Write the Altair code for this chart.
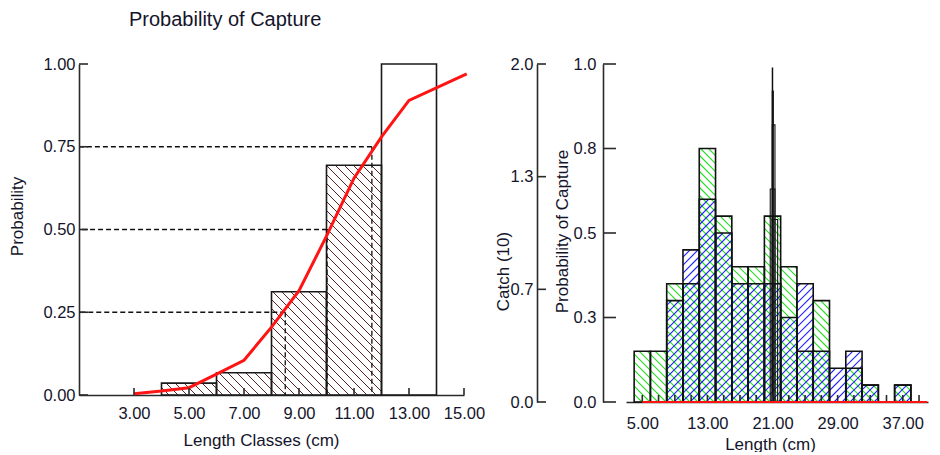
import altair as alt
import pandas as pd
import numpy as np

# ---------------- Left panel data ----------------
class_lo = [4, 6, 8, 10, 12]
class_hi = [6, 8, 10, 12, 14]
class_prob = [0.036, 0.067, 0.312, 0.694, 1.00]
class_hatched = [1, 1, 1, 1, 0]

curve_len = [3.0, 4.0, 5.0, 6.0, 7.0, 8.0, 9.0, 10.0, 11.0, 12.0, 13.0, 15.1]
curve_prob = [0.004, 0.012, 0.022, 0.063, 0.105, 0.205, 0.315, 0.480, 0.655, 0.780, 0.890, 0.970]

quant_prob = [0.25, 0.50, 0.75]
quant_len = [8.50, 10.02, 11.65]

left_x_ticks = [3, 5, 7, 9, 11, 13, 15]
left_y_ticks = [0.0, 0.25, 0.50, 0.75, 1.00]

# ---------------- Right panel data ----------------
bin_lo = [4, 6, 8, 10, 12, 14, 16, 18, 20, 22, 24, 26, 28, 30, 32, 34, 36]
bin_hi = [6, 8, 10, 12, 14, 16, 18, 20, 22, 24, 26, 28, 30, 32, 34, 36, 38]
catch_green = [0.3, 0.3, 0.7, 0.7, 1.5, 1.1, 0.8, 0.8, 1.1, 0.8, 0.3, 0.6, 0.0, 0.2, 0.1, 0.0, 0.1]
catch_blue = [0.0, 0.0, 0.6, 0.9, 1.2, 1.0, 0.7, 0.7, 0.7, 0.5, 0.7, 0.3, 0.2, 0.3, 0.1, 0.0, 0.1]

spike_lo = [20.72, 20.97, 20.97, 20.97, 20.97]
spike_hi = [21.30, 21.63, 21.30, 21.10, 21.02]
spike_h = [1.26, 1.08, 1.64, 1.84, 1.976]

prob_len = [5, 7, 9, 11, 13, 15, 17, 19, 21, 23, 25, 27, 29, 31, 33, 35, 37, 39, 40]
prob_val = [0.0, 0.0, 0.0, 0.0, 0.0, 0.0, 0.0, 0.0, 0.0, 0.0, 0.0, 0.0, 0.0, 0.0, 0.0, 0.0, 0.0, 0.0, 0.0]

right_x_ticks = [5, 7, 9, 11, 13, 15, 17, 19, 21, 23, 25, 27, 29, 31, 33, 35, 37, 39]
right_x_labels = [5, 13, 21, 29, 37]
catch_ticks = [0.0, 0.6667, 1.3333, 2.0]
prob_ticks = [0.0, 0.25, 0.50, 0.75, 1.00]

# ---------------- layout / style ----------------
FONT = "Liberation Sans"
TXT = "#14142a"
AX = "#2a2a2a"
LW, LH = 385, 331
RW, RH = 302, 338
LXD, LYD = [1, 15], [0, 1]
RXD, RYD, PYD = [3, 40.1], [0, 2], [0, 1]


def hatch(lo, hi, h, xdom, w, ydom, hgt, step, direction):
    """Clip diagonal hatch lines to each bar (computed in pixel space)."""
    sx = w / (xdom[1] - xdom[0])
    sy = hgt / (ydom[1] - ydom[0])
    rows = []
    for a, b, t in zip(lo, hi, h):
        if t <= 0:
            continue
        u0, u1, vh = (a - xdom[0]) * sx, (b - xdom[0]) * sx, (t - ydom[0]) * sy
        if direction == "back":
            ks = range(int(np.floor(u0 / step)), int(np.ceil((u1 + vh) / step)) + 1)
            for k in ks:
                c = k * step
                ua, ub = max(u0, c - vh), min(u1, c)
                if ub - ua > 0.4:
                    rows.append(dict(x=ua / sx + xdom[0], y=(c - ua) / sy + ydom[0],
                                     x2=ub / sx + xdom[0], y2=(c - ub) / sy + ydom[0]))
        else:
            ks = range(int(np.floor(-u1 / step)), int(np.ceil((vh - u0) / step)) + 1)
            for k in ks:
                c = k * step
                ua, ub = max(u0, -c), min(u1, vh - c)
                if ub - ua > 0.4:
                    rows.append(dict(x=ua / sx + xdom[0], y=(ua + c) / sy + ydom[0],
                                     x2=ub / sx + xdom[0], y2=(ub + c) / sy + ydom[0]))
    return pd.DataFrame(rows)


def ax_common(**kw):
    base = dict(ticks=False, grid=False, domainColor=AX, domainWidth=1.6,
                labelFont=FONT, labelFontSize=16.5, labelColor=TXT,
                titleFont=FONT, titleFontSize=17, titleFontWeight="normal", titleColor=TXT,
                labelFlush=False, labelOverlap=False)
    base.update(kw)
    return alt.Axis(**base)


# ================= LEFT PANEL =================
lxs = alt.Scale(domain=LXD, nice=False, zero=False)
lys = alt.Scale(domain=LYD, nice=False, zero=False)
LXA = ax_common(values=left_x_ticks, format=".2f", title="Length Classes (cm)",
                labelPadding=10, titleX=182, titleY=37)
LYA = ax_common(values=left_y_ticks, format=".2f", title="Probability",
                labelPadding=4, titleX=-53, titleY=152)


def lx(f):
    return alt.X(f, scale=lxs, axis=LXA)


def ly(f):
    return alt.Y(f, scale=lys, axis=LYA)


classes = pd.DataFrame(dict(lo=class_lo, hi=class_hi, p=class_prob, hatched=class_hatched))
hat = classes[classes.hatched == 1]
lhatch = hatch(hat.lo, hat.hi, hat.p, LXD, LW, LYD, LH, 9.0, "back")

left_hatch = alt.Chart(lhatch).mark_rule(color="#5a2424", strokeWidth=1).encode(
    x=lx("x:Q"), x2="x2:Q", y=ly("y:Q"), y2="y2:Q")

left_bars = alt.Chart(classes).mark_rect(fillOpacity=0, stroke="#1a1a1a", strokeWidth=1.6).encode(
    x=lx("lo:Q"), x2="hi:Q", y=ly("p:Q"), y2=alt.datum(0))

quant = pd.DataFrame(dict(q=quant_prob, L=quant_len))
dash_h = alt.Chart(quant).mark_rule(color="#111", strokeWidth=1.3, strokeDash=[5, 3]).encode(
    x=lx("L:Q"), x2=alt.value(0), y=ly("q:Q"))
dash_v = alt.Chart(quant).mark_rule(color="#111", strokeWidth=1.3, strokeDash=[5, 3]).encode(
    x=lx("L:Q"), y=ly("q:Q"), y2=alt.value(LH))

curve = pd.DataFrame(dict(L=curve_len, p=curve_prob))
left_curve = alt.Chart(curve).mark_line(color="#ff1414", strokeWidth=3).encode(
    x=lx("L:Q"), y=ly("p:Q"))

lyt = pd.DataFrame(dict(v=left_y_ticks))
left_yt = alt.Chart(lyt).mark_rule(color=AX, strokeWidth=1.6).encode(
    y=ly("v:Q"), x=alt.value(0), x2=alt.value(9))
lxt = pd.DataFrame(dict(v=left_x_ticks))
left_xt = alt.Chart(lxt).mark_rule(color=AX, strokeWidth=1.6).encode(
    x=lx("v:Q"), y=alt.value(LH), y2=alt.value(LH - 7))

left = alt.layer(left_hatch, left_bars, dash_h, dash_v, left_curve, left_yt, left_xt).properties(
    width=LW, height=LH,
    title=alt.TitleParams("Probability of Capture", anchor="start", frame="group", dx=50,
                          offset=26.5, font=FONT, fontSize=20, fontWeight="normal", color=TXT),
)

# ================= RIGHT PANEL =================
rxs = alt.Scale(domain=RXD, nice=False, zero=False)
rys = alt.Scale(domain=RYD, nice=False, zero=False)
pys = alt.Scale(domain=PYD, nice=False, zero=False)
RXA = ax_common(values=right_x_labels, format=".2f", title="Length (cm)",
                labelPadding=13.5, titleX=144, titleY=34)
RYA = ax_common(values=catch_ticks, format=".1f", title="Catch (10)", orient="left",
                offset=89, labelPadding=4, titleX=-25, titleY=207)
PYA = ax_common(values=prob_ticks, format=".1f", title="Probability of Capture",
                orient="left", offset=23, labelPadding=7, titleX=-32, titleY=167)


def rx(f):
    return alt.X(f, scale=rxs, axis=RXA)


def ry(f):
    return alt.Y(f, scale=rys, axis=RYA)


def py(f):
    return alt.Y(f, scale=pys, axis=PYA)


ghatch = hatch(bin_lo, bin_hi, catch_green, RXD, RW, RYD, RH, 8.0, "back")
bhatch = hatch(bin_lo, bin_hi, catch_blue, RXD, RW, RYD, RH, 8.0, "fwd")

green_h = alt.Chart(ghatch).mark_rule(color="#22dd22", strokeWidth=1.1).encode(
    x=rx("x:Q"), x2="x2:Q", y=ry("y:Q"), y2="y2:Q")
blue_h = alt.Chart(bhatch).mark_rule(color="#1f1fff", strokeWidth=1.1).encode(
    x=rx("x:Q"), x2="x2:Q", y=ry("y:Q"), y2="y2:Q")

bins = pd.DataFrame(dict(lo=bin_lo, hi=bin_hi, g=catch_green, b=catch_blue))
green_o = alt.Chart(bins[bins.g > 0]).mark_rect(fillOpacity=0, stroke="#111", strokeWidth=1.6).encode(
    x=rx("lo:Q"), x2="hi:Q", y=ry("g:Q"), y2=alt.datum(0))
blue_o = alt.Chart(bins[bins.b > 0]).mark_rect(fillOpacity=0, stroke="#111", strokeWidth=1.6).encode(
    x=rx("lo:Q"), x2="hi:Q", y=ry("b:Q"), y2=alt.datum(0))

spike = pd.DataFrame(dict(lo=spike_lo, hi=spike_hi, h=spike_h))
spike_o = alt.Chart(spike).mark_rect(fillOpacity=0, stroke="#111", strokeWidth=1.1).encode(
    x=rx("lo:Q"), x2="hi:Q", y=ry("h:Q"), y2=alt.datum(0))

cyt = pd.DataFrame(dict(v=catch_ticks))
catch_t = alt.Chart(cyt).mark_rule(color=AX, strokeWidth=1.6).encode(
    y=ry("v:Q"), x=alt.value(-89), x2=alt.value(-80))
rxt = pd.DataFrame(dict(v=right_x_ticks))
right_xt = alt.Chart(rxt).mark_rule(color=AX, strokeWidth=1.6).encode(
    x=rx("v:Q"), y=alt.value(RH), y2=alt.value(RH - 7))

catch_group = alt.layer(green_h, blue_h, green_o, blue_o, spike_o, catch_t, right_xt)

prob = pd.DataFrame(dict(L=prob_len, p=prob_val))
prob_line = alt.Chart(prob).mark_line(color="#ff1414", strokeWidth=2.2).encode(
    x=rx("L:Q"), y=py("p:Q"))
pyt = pd.DataFrame(dict(v=prob_ticks))
prob_t = alt.Chart(pyt).mark_rule(color=AX, strokeWidth=1.6).encode(
    y=py("v:Q"), x=alt.value(-23), x2=alt.value(-10))

prob_group = alt.layer(prob_line, prob_t)

right = alt.layer(catch_group, prob_group).resolve_scale(y="independent").properties(
    width=RW, height=RH)

chart = alt.hconcat(left, right, spacing=162, bounds="flush").properties(
    padding={"left": 0, "top": 1, "right": 0, "bottom": 0},
    background="white",
).configure_view(stroke=None)

chart.save("out.html", embed_options={"renderer": "svg", "actions": False})
